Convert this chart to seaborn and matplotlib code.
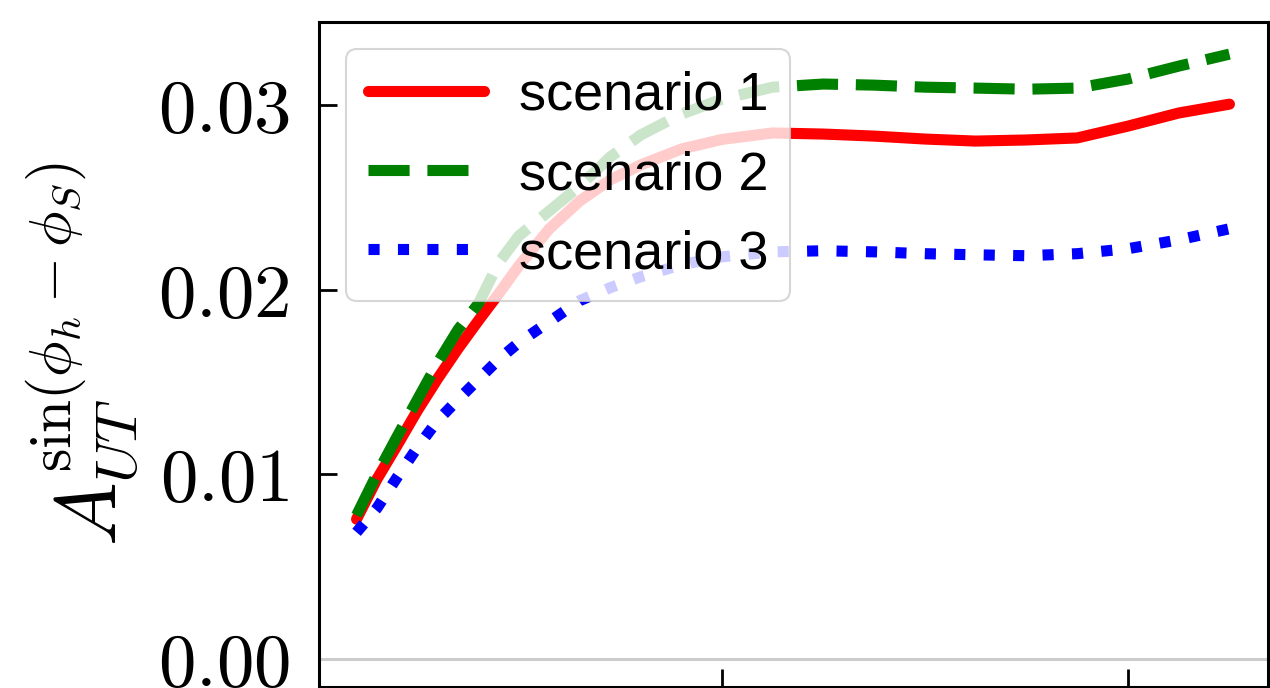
import matplotlib
matplotlib.use("Agg")
import matplotlib.pyplot as plt
import seaborn as sns

# ---- data ----
x_vals = [0.02, 0.03, 0.04, 0.05, 0.06, 0.07, 0.08, 0.09, 0.10, 0.115, 0.13, 0.145, 0.16,
          0.18, 0.20, 0.225, 0.25, 0.275, 0.30, 0.325, 0.35, 0.375, 0.40, 0.425, 0.45]
scenario1 = [0.00757, 0.00973, 0.01157, 0.01346, 0.01519, 0.01681, 0.01832, 0.01978, 0.02130,
             0.02330, 0.02481, 0.02595, 0.02676, 0.02762, 0.02814, 0.02849, 0.02843, 0.02832,
             0.02816, 0.02805, 0.02811, 0.02822, 0.02886, 0.02957, 0.03005]
scenario2 = [0.00778, 0.01000, 0.01205, 0.01405, 0.01605, 0.01784, 0.01924, 0.02146, 0.02292,
             0.02427, 0.02562, 0.02719, 0.02838, 0.02951, 0.03032, 0.03097, 0.03114, 0.03108,
             0.03097, 0.03092, 0.03086, 0.03092, 0.03141, 0.03211, 0.03276]
scenario3 = [0.00686, 0.00816, 0.00984, 0.01146, 0.01292, 0.01405, 0.01514, 0.01622, 0.01714,
             0.01827, 0.01941, 0.02011, 0.02070, 0.02135, 0.02178, 0.02205, 0.02211, 0.02205,
             0.02195, 0.02189, 0.02184, 0.02195, 0.02222, 0.02270, 0.02330]
series_labels = ["scenario 1", "scenario 2", "scenario 3"]
ytick_vals = [0.00, 0.01, 0.02, 0.03]
ytick_labels = ["$0.00$", "$0.01$", "$0.02$", "$0.03$"]
xtick_vals = [0.2, 0.4]
ylabel = r"$A_{UT}^{\sin(\phi_h - \phi_S)}$"

sns.set_style("ticks")
plt.rcParams["mathtext.fontset"] = "cm"
plt.rcParams["font.family"] = ["Liberation Sans", "DejaVu Sans"]

fig = plt.figure(figsize=(12.7, 6.88), dpi=100)
ax = fig.add_axes([319 / 1270, 1 / 688, 949 / 1270, 665 / 688])

ax.axhline(0, color="#cccccc", lw=2.2, zorder=1)

styles = [("red", "-"), ("green", "--"), ("blue", ":")]
for ys, lab, (c, ls) in zip([scenario1, scenario2, scenario3], series_labels, styles):
    sns.lineplot(x=x_vals, y=ys, ax=ax, color=c, linestyle=ls, lw=8, label=lab, zorder=3)

ax.set_xlim(0.0015, 0.469)
ax.set_ylim(-0.00152, 0.0345)
ax.set_xticks(xtick_vals)
ax.set_yticks(ytick_vals)
ax.set_yticklabels(ytick_labels)
ax.tick_params(axis="both", direction="in", length=13, width=2, labelsize=54, pad=21,
               colors="black")
ax.tick_params(axis="x", labelbottom=False)
for s in ax.spines.values():
    s.set_linewidth(2.2)
    s.set_color("black")

ax.set_ylabel(ylabel, fontsize=61, color="black")
ax.yaxis.set_label_coords(-0.188, 0.5)

leg = ax.legend(loc="upper left", fontsize=39, handlelength=2.15, handletextpad=0.64,
                labelspacing=0.54, borderpad=0.4, framealpha=0.8, fancybox=True)
leg.get_frame().set_edgecolor("#cccccc")
leg.get_frame().set_linewidth(1.5)
for t in leg.get_texts():
    t.set_color("black")

fig.savefig("out.png", dpi=100)
